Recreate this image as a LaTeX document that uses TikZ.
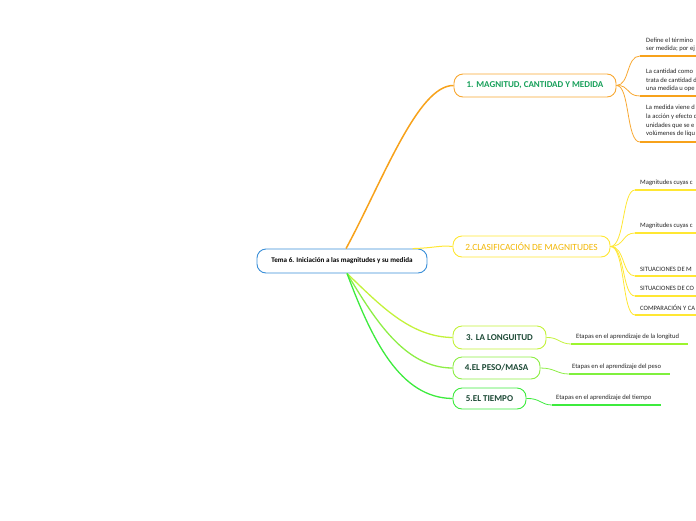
\documentclass[tikz,border=0pt]{standalone}
\usepackage{fontspec}
\setmainfont{Carlito}
\definecolor{corange}{HTML}{F7A21B}
\definecolor{borange}{HTML}{F8A832}
\definecolor{cyellow}{HTML}{FFE733}
\definecolor{tyellow}{HTML}{F2B705}
\definecolor{cg3}{HTML}{C3F23A}
\definecolor{cg4}{HTML}{8DEE45}
\definecolor{cg5}{HTML}{3DEB3D}
\definecolor{tgreen}{HTML}{17A05A}
\definecolor{tdark}{HTML}{1D4A36}
\definecolor{cblue}{HTML}{3A8FD8}
\begin{document}
\begin{tikzpicture}[x=1pt,y=-1pt,
  topic/.style={draw,rounded corners=9pt,line width=0.9pt,inner sep=0pt,fill=white},
  leaftext/.style={anchor=south west,align=left,inner sep=0pt,font=\fontsize{6.6}{8.6}\selectfont,text=black!85},
  conn/.style={line width=1.3pt},
  sub/.style={line width=0.8pt},
  uline/.style={line width=1.3pt}]
\useasboundingbox (0,0) rectangle (696,520);
\clip (0,0) rectangle (696,520);

\coordinate (cc) at (342,261);

% main topics
\node[topic,draw=cblue,minimum width=170pt,minimum height=24pt,font=\fontsize{7.1}{8}\selectfont\bfseries] (c) at (cc) {Tema 6. Iniciación a las magnitudes y su medida};
\node[topic,draw=borange,minimum width=162pt,minimum height=23pt,text=tgreen,font=\fontsize{9}{10}\selectfont\bfseries] (n1) at (535,85.5) {1. MAGNITUD, CANTIDAD Y MEDIDA};
\node[topic,draw=cyellow,minimum width=157pt,minimum height=21pt,text=tyellow,font=\fontsize{9.4}{10}\selectfont] (n2) at (531.5,246.5) {2.CLASIFICACIÓN DE MAGNITUDES};
\node[topic,draw=cg3,minimum width=93pt,minimum height=23pt,text=tdark,font=\fontsize{9}{10}\selectfont\bfseries] (n3) at (499.5,337.5) {3. LA LONGUITUD};
\node[topic,draw=cg4,minimum width=87pt,minimum height=22pt,text=tdark,font=\fontsize{9}{10}\selectfont\bfseries] (n4) at (496.5,368) {4.EL PESO/MASA};
\node[topic,draw=cg5,minimum width=73pt,minimum height=21pt,text=tdark,font=\fontsize{9}{10}\selectfont\bfseries] (n5) at (489.5,398.5) {5.EL TIEMPO};

% main connectors
\draw[conn,corange,line width=1.5pt] (c.72) .. controls (383,180) and (418,85) .. (n1.west);
\draw[conn,cyellow,line width=1pt] (c.10) .. controls (435,248) and (440,245) .. (n2.west);
\draw[conn,cg3] (c.-68) .. controls (380,305) and (410,337) .. (n3.west);
\draw[conn,cg4] (c.-68) .. controls (375,320) and (405,368) .. (n4.west);
\draw[conn,cg5] (c.-68) .. controls (372,340) and (400,398) .. (n5.west);

% leaves of 1
\coordinate (a1) at (640,56);
\coordinate (a2) at (640,96);
\coordinate (a3) at (640,142);
\node[leaftext] (l1) at (646,52) {Define el término\\ser medida; por ej};
\node[leaftext] (l2) at (646,92) {La cantidad como\\trata de cantidad d\\una medida u ope};
\node[leaftext] (l3) at (646,137) {La medida viene d\\la acción y efecto d\\unidades que se e\\volúmenes de líqu};
\draw[sub,borange] (n1.east) .. controls (630,85) and (626,56) .. (a1);
\draw[sub,borange] (n1.east) .. controls (630,85) and (626,96) .. (a2);
\draw[sub,borange] (n1.east) .. controls (630,85) and (626,142) .. (a3);
\foreach \a in {a1,a2,a3}{\draw[uline,corange] (\a) -- ++(70,0);}

% leaves of 2
\coordinate (b1) at (635,190);
\coordinate (b2) at (635,233);
\coordinate (b3) at (635,276);
\coordinate (b4) at (635,296);
\coordinate (b5) at (635,315);
\node[leaftext] (m1) at (640,186) {Magnitudes cuyas c};
\node[leaftext] (m2) at (640,229) {Magnitudes cuyas c};
\node[leaftext] (m3) at (640,272) {SITUACIONES DE M};
\node[leaftext] (m4) at (640,291) {SITUACIONES DE CO};
\node[leaftext] (m5) at (640,311) {COMPARACIÓN Y CA};
\draw[sub,cyellow] (n2.east) .. controls (625,246) and (622,190) .. (b1);
\draw[sub,cyellow] (n2.east) .. controls (625,246) and (622,233) .. (b2);
\draw[sub,cyellow] (n2.east) .. controls (625,246) and (622,276) .. (b3);
\draw[sub,cyellow] (n2.east) .. controls (625,246) and (622,296) .. (b4);
\draw[sub,cyellow] (n2.east) .. controls (625,246) and (622,315) .. (b5);
\foreach \b in {b1,b2,b3,b4,b5}{\draw[uline,cyellow] (\b) -- ++(70,0);}

% leaves of 3,4,5
\coordinate (g3s) at (571,344);
\coordinate (g3e) at (688,344);
\coordinate (g4s) at (569,374);
\coordinate (g4e) at (670,374);
\coordinate (g5s) at (552,405);
\coordinate (g5e) at (661,405);
\node[leaftext] (k3) at (576,340) {Etapas en el aprendizaje de la longitud};
\node[leaftext] (k4) at (572,370) {Etapas en el aprendizaje del peso};
\node[leaftext] (k5) at (556,401) {Etapas en el aprendizaje del tiempo};
\draw[sub,cg3] (n3.east) .. controls (558,337) and (560,344) .. (g3s);
\draw[sub,cg4] (n4.east) .. controls (555,368) and (557,374) .. (g4s);
\draw[sub,cg5] (n5.east) .. controls (540,398) and (541,405) .. (g5s);
\draw[uline,cg3!80!green] (g3s) -- (g3e);
\draw[uline,cg4!90!green] (g4s) -- (g4e);
\draw[uline,cg5] (g5s) -- (g5e);
\end{tikzpicture}
\end{document}
